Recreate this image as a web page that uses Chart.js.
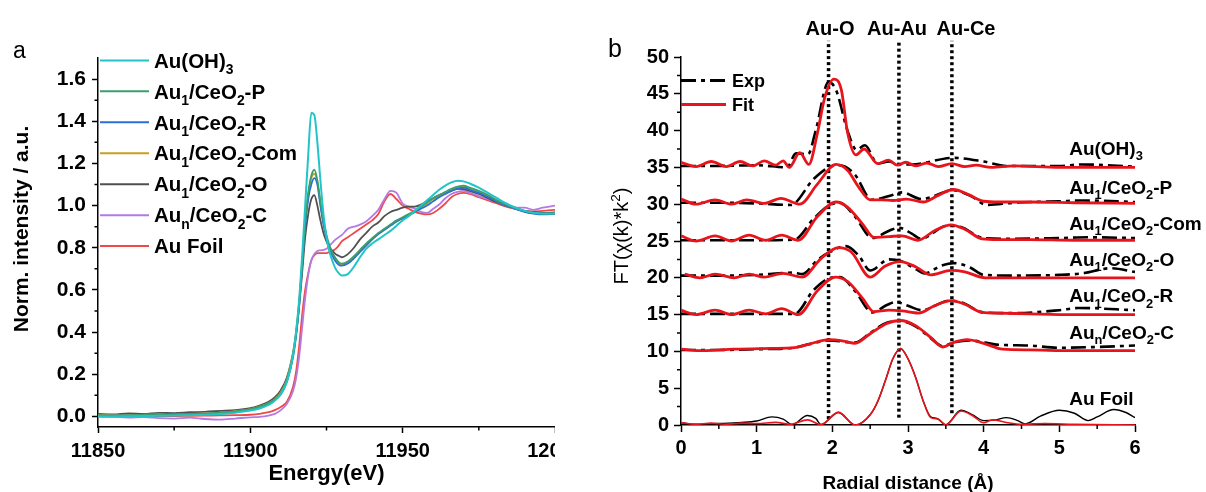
<!DOCTYPE html>
<html>
<head>
<meta charset="utf-8">
<script src="https://cdn.jsdelivr.net/npm/chart.js@4.4.1/dist/chart.umd.min.js"></script>
<style>
    html, body { margin: 0; padding: 0; background: #fff; }
    #wrap { position: relative; width: 1206px; height: 492px; overflow: hidden; }
    #boxA { position: absolute; left: 0; top: 0; width: 555px; height: 492px; }
    #boxB { position: absolute; left: 600px; top: 0; width: 606px; height: 492px; }
</style>
</head>
<body>
<div id="wrap">
    <div id="boxA"><canvas id="xanes" width="555" height="492"></canvas></div>
    <div id="boxB"><canvas id="exafs" width="606" height="492"></canvas></div>
</div>
<script>
const FONT = '"Liberation Sans", Arial, Helvetica, sans-serif';

// ---------- panel a : XANES ----------
const energy = [11850, 11855, 11860, 11865, 11870, 11875, 11880, 11885, 11890, 11895, 11900,
    11903, 11906, 11908, 11910, 11912, 11914,
    11915, 11916, 11917, 11918, 11919, 11920, 11921, 11922, 11923, 11924, 11925, 11926, 11927, 11928, 11929, 11930,
    11932, 11934, 11936, 11938, 11940, 11942, 11944, 11946, 11948, 11950, 11952, 11954, 11956, 11958, 11960, 11962, 11964, 11966, 11968, 11970, 11972,
    11975, 11978, 11981, 11984, 11987, 11990, 11993, 11996, 12000];

const auOH3 = [0.000, 0.000, 0.001, 0.002, 0.003, 0.004, 0.006, 0.008, 0.012, 0.018, 0.028,
    0.038, 0.055, 0.075, 0.105, 0.165, 0.29,
    0.40, 0.55, 0.76, 1.00, 1.24, 1.44, 1.43, 1.30, 1.12, 0.96, 0.85, 0.78, 0.735, 0.70, 0.68, 0.668,
    0.675, 0.71, 0.755, 0.795, 0.82, 0.84, 0.86, 0.88, 0.905, 0.93, 0.95, 0.975, 1.0, 1.025, 1.05, 1.075, 1.095, 1.11, 1.118, 1.115, 1.105,
    1.085, 1.06, 1.035, 1.01, 0.99, 0.975, 0.966, 0.963, 0.963];
const auP = [0.005, 0.004, 0.006, 0.007, 0.008, 0.010, 0.011, 0.013, 0.018, 0.024, 0.034,
    0.045, 0.062, 0.08, 0.11, 0.17, 0.29,
    0.39, 0.53, 0.72, 0.92, 1.06, 1.14, 1.17, 1.12, 1.02, 0.93, 0.86, 0.81, 0.775, 0.75, 0.732, 0.725,
    0.735, 0.76, 0.79, 0.82, 0.845, 0.87, 0.89, 0.91, 0.93, 0.945, 0.96, 0.975, 0.995, 1.015, 1.035, 1.05, 1.065, 1.08, 1.09, 1.095, 1.085,
    1.07, 1.05, 1.025, 1.005, 0.99, 0.975, 0.965, 0.962, 0.962];
const auR = [0.004, 0.005, 0.004, 0.007, 0.006, 0.009, 0.010, 0.012, 0.016, 0.022, 0.032,
    0.044, 0.06, 0.078, 0.105, 0.165, 0.28,
    0.38, 0.52, 0.71, 0.90, 1.03, 1.10, 1.13, 1.10, 1.00, 0.91, 0.845, 0.795, 0.76, 0.735, 0.72, 0.715,
    0.725, 0.75, 0.78, 0.81, 0.84, 0.865, 0.885, 0.905, 0.925, 0.94, 0.955, 0.97, 0.985, 1.0, 1.02, 1.04, 1.055, 1.07, 1.08, 1.085, 1.075,
    1.06, 1.04, 1.02, 1.0, 0.985, 0.97, 0.962, 0.958, 0.96];
const auCom = [0.006, 0.008, 0.005, 0.009, 0.010, 0.008, 0.012, 0.014, 0.017, 0.025, 0.035,
    0.047, 0.064, 0.082, 0.115, 0.175, 0.30,
    0.40, 0.54, 0.73, 0.92, 1.05, 1.13, 1.15, 1.11, 1.01, 0.92, 0.85, 0.80, 0.765, 0.74, 0.725, 0.72,
    0.73, 0.755, 0.785, 0.815, 0.84, 0.865, 0.885, 0.905, 0.925, 0.94, 0.955, 0.97, 0.99, 1.01, 1.03, 1.045, 1.06, 1.075, 1.085, 1.09, 1.08,
    1.065, 1.045, 1.02, 1.0, 0.985, 0.972, 0.963, 0.96, 0.962];
const auO = [0.012, 0.010, 0.015, 0.012, 0.017, 0.016, 0.020, 0.022, 0.026, 0.030, 0.040,
    0.052, 0.07, 0.09, 0.125, 0.185, 0.30,
    0.39, 0.52, 0.68, 0.85, 0.96, 1.03, 1.05, 1.00, 0.93, 0.87, 0.83, 0.80, 0.785, 0.77, 0.762, 0.755,
    0.77, 0.80, 0.84, 0.87, 0.90, 0.92, 0.95, 0.97, 0.98, 0.99, 0.995, 0.995, 1.005, 1.02, 1.035, 1.05, 1.06, 1.07, 1.08, 1.078, 1.07,
    1.055, 1.035, 1.015, 0.998, 0.985, 0.975, 0.97, 0.965, 0.968];
const aunC = [0.0, -0.002, -0.005, -0.003, -0.008, -0.010, -0.006, -0.012, -0.015, -0.010, -0.004,
    -0.002, 0.004, 0.012, 0.03, 0.06, 0.12,
    0.18, 0.28, 0.42, 0.56, 0.67, 0.74, 0.77, 0.785, 0.788, 0.79, 0.795, 0.81, 0.825, 0.84, 0.85, 0.86,
    0.89, 0.90, 0.91, 0.925, 0.95, 0.98, 1.03, 1.07, 1.06, 1.01, 0.995, 0.985, 0.97, 0.965, 0.985, 1.005, 1.035, 1.055, 1.065, 1.07, 1.06,
    1.045, 1.03, 1.015, 1.0, 0.99, 0.99, 0.98, 0.99, 1.0];
const auFoil = [0.0, 0.0, 0.001, 0.001, 0.002, 0.002, 0.003, 0.004, 0.005, 0.006, 0.008,
    0.012, 0.02, 0.03, 0.045, 0.07, 0.14,
    0.21, 0.33, 0.48, 0.60, 0.68, 0.74, 0.765, 0.775, 0.775, 0.775, 0.775, 0.78, 0.785, 0.795, 0.81, 0.83,
    0.85, 0.87, 0.89, 0.91, 0.93, 0.96, 1.02, 1.055, 1.03, 1.0, 0.985, 0.97, 0.962, 0.958, 0.965, 0.985, 1.01, 1.04, 1.055, 1.06, 1.055,
    1.04, 1.025, 1.01, 0.995, 0.985, 0.975, 0.972, 0.975, 0.98];

const xanesNames = ['Au(OH)_{3}', 'Au_{1}/CeO_{2}-P', 'Au_{1}/CeO_{2}-R', 'Au_{1}/CeO_{2}-Com',
    'Au_{1}/CeO_{2}-O', 'Au_{n}/CeO_{2}-C', 'Au Foil'];
const xanesValues = [auOH3, auP, auR, auCom, auO, aunC, auFoil];
const xanesColors = ['#22c4c8', '#3a9f6c', '#2a6fd8', '#c8a020', '#505050', '#b47ae2', '#ef4848'];

const xanesTicksX = [11850, 11900, 11950, 12000];
const xanesMinorX = [11875, 11925, 11975];
const xanesTicksY = [0, 0.2, 0.4, 0.6, 0.8, 1.0, 1.2, 1.4, 1.6];
const xanesMinorY = [0.1, 0.3, 0.5, 0.7, 0.9, 1.1, 1.3, 1.5];

// ---------- panel b : EXAFS FT ----------
const fitAuOH3 = [[0, 35.7], [0.2, 35.1], [0.4, 35.8], [0.6, 35.1], [0.78, 35.8], [0.95, 35.2], [1.1, 35.9], [1.25, 35.3],
    [1.35, 35.9], [1.43, 35.0], [1.57, 37.0], [1.69, 35.4], [1.8, 39.5], [1.9, 44.5], [2.02, 47.0], [2.12, 45.5], [2.2, 39.8],
    [2.31, 36.7], [2.42, 37.5], [2.6, 35.5], [2.74, 36.0], [2.86, 35.3], [2.97, 35.7], [3.1, 35.2], [3.25, 35.6], [3.4, 35.1],
    [3.58, 35.5], [3.75, 35.1], [3.9, 35.3], [4.1, 35.0], [4.4, 35.2], [5.0, 35.0], [6.0, 35.0]];
const expAuOH3 = [[0, 35.2], [0.5, 35.2], [1.0, 35.3], [1.4, 35.0], [1.52, 36.9], [1.68, 36.8], [1.78, 40.0], [1.95, 46.6],
    [2.05, 45.5], [2.2, 40.0], [2.32, 37.4], [2.43, 38.0], [2.6, 35.5], [2.75, 35.8], [2.9, 35.4], [3.05, 35.4], [3.6, 36.3],
    [4.0, 35.8], [4.3, 35.2], [5.0, 35.2], [5.3, 35.4], [6.0, 35.1]];

const fitP = [[0, 30.7], [0.2, 30.0], [0.45, 30.6], [0.67, 30.0], [0.87, 30.6], [1.1, 30.1], [1.32, 30.8], [1.57, 30.0],
    [1.8, 32.7], [2.05, 35.4], [2.2, 34.6], [2.35, 32.3], [2.5, 30.6], [2.65, 30.6], [2.8, 30.5], [2.98, 30.7], [3.2, 30.3],
    [3.4, 31.2], [3.6, 32.0], [3.8, 31.3], [4.0, 30.4], [4.2, 30.3], [4.6, 30.3], [5.2, 30.2], [6.0, 30.1]];
const expP = [[0, 30.2], [0.5, 30.2], [1.0, 30.1], [1.45, 29.9], [1.75, 33.4], [1.95, 35.0], [2.1, 35.3], [2.3, 34.0],
    [2.52, 30.6], [2.75, 31.1], [2.92, 31.6], [3.18, 30.7], [3.6, 31.9], [3.85, 31.0], [4.04, 29.9], [4.4, 30.2], [5.0, 30.4],
    [5.3, 30.5], [6.0, 30.3]];

const fitCom = [[0, 25.7], [0.2, 25.0], [0.45, 25.7], [0.67, 25.0], [0.9, 25.8], [1.12, 25.1], [1.33, 25.8], [1.55, 25.1],
    [1.8, 28.3], [2.05, 30.3], [2.2, 29.6], [2.4, 27.3], [2.55, 25.5], [2.75, 25.6], [2.92, 25.7], [3.13, 25.1], [3.35, 26.4],
    [3.57, 27.2], [3.75, 26.6], [3.98, 25.3], [4.2, 25.2], [4.6, 25.2], [5.2, 25.1], [6.0, 25.1]];
const expCom = [[0, 25.1], [0.5, 25.1], [1.0, 25.1], [1.5, 25.2], [1.75, 28.0], [1.95, 29.8], [2.1, 30.2], [2.3, 28.3],
    [2.53, 25.4], [2.75, 26.4], [2.88, 26.8], [3.05, 26.0], [3.17, 25.3], [3.52, 27.1], [3.7, 26.9], [4.0, 25.4], [4.4, 25.3],
    [5.0, 25.4], [5.4, 25.5], [6.0, 25.4]];

const fitO = [[0.05, 20.5], [0.25, 20.0], [0.45, 20.5], [0.7, 20.0], [0.9, 20.5], [1.1, 20.1], [1.35, 20.6], [1.6, 20.1],
    [1.85, 22.6], [2.08, 24.1], [2.25, 23.5], [2.5, 20.1], [2.7, 21.6], [2.9, 22.2], [3.1, 21.5], [3.3, 20.4], [3.57, 21.0],
    [3.75, 20.8], [4.02, 20.0], [4.4, 20.0], [5.0, 20.0], [6.0, 20.0]];
const expO = [[0, 20.3], [0.5, 20.3], [1.0, 20.4], [1.5, 20.7], [1.6, 20.5], [1.8, 22.4], [1.95, 23.4], [2.18, 24.3],
    [2.35, 23.0], [2.5, 21.0], [2.75, 22.5], [2.9, 22.3], [3.1, 21.2], [3.22, 20.6], [3.43, 21.6], [3.6, 22.0], [3.82, 21.4],
    [4.0, 20.4], [4.4, 20.3], [5.0, 20.4], [5.3, 20.6], [5.68, 21.3], [6.0, 20.8]];

const fitR = [[0, 15.6], [0.2, 15.0], [0.45, 15.6], [0.67, 15.0], [0.9, 15.6], [1.12, 15.1], [1.33, 15.8], [1.55, 15.0],
    [1.8, 18.2], [2.04, 20.1], [2.2, 19.5], [2.4, 17.2], [2.55, 15.4], [2.75, 15.6], [2.92, 15.5], [3.14, 15.2], [3.35, 16.2],
    [3.57, 16.9], [3.75, 16.4], [3.98, 15.3], [4.2, 15.2], [4.6, 15.1], [5.2, 15.0], [6.0, 15.0]];
const expR = [[0, 15.1], [0.5, 15.1], [1.0, 15.1], [1.5, 15.1], [1.75, 18.3], [1.95, 19.9], [2.1, 20.1], [2.3, 18.2],
    [2.53, 15.3], [2.72, 16.3], [2.84, 16.7], [3.0, 16.2], [3.18, 15.6], [3.55, 16.9], [3.72, 16.6], [4.0, 15.3], [4.4, 15.2],
    [5.0, 15.6], [5.25, 15.9], [6.0, 15.6]];

const fitC = [[0, 10.3], [0.3, 10.1], [0.7, 10.3], [1.2, 10.4], [1.5, 10.5], [1.7, 11.0], [1.95, 11.6], [2.15, 11.4],
    [2.3, 11.1], [2.5, 12.4], [2.72, 13.8], [2.9, 14.2], [3.1, 13.5], [3.3, 11.9], [3.46, 10.6], [3.6, 11.2], [3.78, 11.6],
    [4.0, 11.1], [4.25, 10.3], [4.6, 10.2], [5.2, 10.1], [6.0, 10.1]];
const expC = [[0, 10.2], [0.5, 10.2], [1.0, 10.3], [1.5, 10.5], [1.7, 11.0], [1.95, 11.5], [2.3, 11.2], [2.5, 12.5],
    [2.72, 13.9], [2.9, 14.1], [3.1, 13.4], [3.3, 11.8], [3.46, 10.7], [3.6, 11.2], [3.8, 11.5], [4.2, 10.9], [4.6, 10.8],
    [5.0, 10.5], [5.5, 10.6], [6.0, 10.8]];

const fitFoil = [[0, 0.35], [0.2, 0.1], [0.4, 0.25], [0.6, 0.1], [0.8, 0.25], [1.0, 0.2], [1.25, 0.35], [1.45, 0.1],
    [1.67, 0.7], [1.85, 0.05], [2.08, 1.75], [2.3, 0.0], [2.5, 1.4], [2.6, 3.2], [2.7, 6.0], [2.8, 9.0], [2.9, 10.4],
    [3.0, 9.0], [3.1, 6.5], [3.2, 3.3], [3.3, 1.0], [3.4, 0.8], [3.5, 0.0], [3.7, 1.9], [3.85, 1.3], [4.0, 0.3], [4.12, 0.7],
    [4.3, 0.35], [4.5, 0.1], [4.8, 0.2], [5.2, 0.1], [6.0, 0.0]];
const expFoil = [[0, 0.3], [0.2, 0.1], [0.5, 0.2], [0.8, 0.35], [1.0, 0.55], [1.2, 1.1], [1.35, 0.8], [1.47, 0.05],
    [1.67, 1.3], [1.78, 0.9], [1.85, 0.05], [2.08, 1.7], [2.3, 0.0], [2.5, 1.4], [2.6, 3.2], [2.7, 6.0], [2.8, 9.0],
    [2.9, 10.4], [3.0, 9.0], [3.1, 6.5], [3.2, 3.3], [3.3, 1.1], [3.38, 0.9], [3.5, 0.05], [3.7, 2.0], [3.85, 1.4],
    [4.0, 0.6], [4.15, 0.7], [4.3, 1.0], [4.45, 0.6], [4.55, 0.15], [4.75, 1.2], [5.0, 2.0], [5.2, 1.6], [5.38, 0.6],
    [5.5, 1.1], [5.72, 2.1], [5.88, 1.7], [6.0, 1.0]];

const ftNames = ['Au(OH)_{3}', 'Au_{1}/CeO_{2}-P', 'Au_{1}/CeO_{2}-Com', 'Au_{1}/CeO_{2}-O',
    'Au_{1}/CeO_{2}-R', 'Au_{n}/CeO_{2}-C', 'Au Foil'];
const ftExp = [expAuOH3, expP, expCom, expO, expR, expC, expFoil];
const ftFit = [fitAuOH3, fitP, fitCom, fitO, fitR, fitC, fitFoil];
const ftLabelY = [37.7, 32.4, 27.5, 22.6, 17.6, 12.7, 3.7]; // where each name sits
const ftLabelR = 5.13;

const bondNames = ['Au-O', 'Au-Au', 'Au-Ce'];
const bondR = [1.95, 2.88, 3.58];
const bondLow = [0.8, 1.0, 1.6];
const bondTop = 52.2;

const radialTicksX = [0, 1, 2, 3, 4, 5, 6];
const radialMinorX = [0.5, 1.5, 2.5, 3.5, 4.5, 5.5];
const ftTicksY = [0, 5, 10, 15, 20, 25, 30, 35, 40, 45, 50];
const ftMinorY = [2.5, 7.5, 12.5, 17.5, 22.5, 27.5, 32.5, 37.5, 42.5, 47.5];

const FIT_RED = '#e8141c';

Chart.defaults.font.family = FONT;
Chart.defaults.color = '#000';

// text with _{sub} and ^{sup} parts, y = baseline
function drawRich(ctx, text, x, y, size, weight, align) {
    const segs = [];
    const re = /([_^])\{([^}]*)\}|([^_^]+)/g;
    let m;
    while ((m = re.exec(text))) {
        if (m[3]) segs.push({ t: m[3], mode: 0 });
        else segs.push({ t: m[2], mode: m[1] === '_' ? 1 : -1 });
    }
    const fontOf = s => `${weight} ${s.mode ? (size * 0.68).toFixed(1) : size}px ${FONT}`;
    let w = 0;
    segs.forEach(s => { ctx.font = fontOf(s); s.w = ctx.measureText(s.t).width; w += s.w; });
    let cx = align === 'center' ? x - w / 2 : (align === 'right' ? x - w : x);
    ctx.textAlign = 'left';
    ctx.textBaseline = 'alphabetic';
    segs.forEach(s => {
        ctx.font = fontOf(s);
        const dy = s.mode === 1 ? size * 0.3 : (s.mode === -1 ? -size * 0.42 : 0);
        ctx.fillText(s.t, cx, y + dy);
        cx += s.w;
    });
}

function minorTicks(xMinor, yMinor, len) {
    return {
        id: 'minorTicks',
        afterDraw(chart) {
            const { ctx, chartArea: a, scales: { x, y } } = chart;
            ctx.save();
            ctx.strokeStyle = '#000';
            ctx.lineWidth = 1.5;
            ctx.beginPath();
            xMinor.forEach(v => { const px = x.getPixelForValue(v); ctx.moveTo(px, a.bottom); ctx.lineTo(px, a.bottom + len); });
            yMinor.forEach(v => { const py = y.getPixelForValue(v); ctx.moveTo(a.left, py); ctx.lineTo(a.left - len, py); });
            ctx.stroke();
            ctx.restore();
        }
    };
}

function axisStyle(ticks, fmt, padding, width, height, tickLen, fontSize) {
    return {
        type: 'linear',
        border: { display: true, color: '#000', width: 1.5 },
        grid: { display: true, drawOnChartArea: false, color: '#000', tickLength: tickLen, tickWidth: 1.5 },
        ticks: { autoSkip: false, maxRotation: 0, padding: padding, color: '#000',
            font: { family: FONT, size: fontSize, weight: 'bold' }, callback: fmt },
        afterBuildTicks: s => { s.ticks = ticks.map(v => ({ value: v })); },
        afterFit: s => {
            if (width) s.width = width;
            if (height) s.height = height;
            s.paddingLeft = 0; s.paddingRight = 0; s.paddingTop = 0; s.paddingBottom = 0;
        }
    };
}

// ---------- chart a ----------
const xanesDecor = {
    id: 'xanesDecor',
    afterDraw(chart) {
        const { ctx, chartArea: a } = chart;
        ctx.save();
        ctx.fillStyle = '#000';
        // legend
        chart.data.datasets.forEach((ds, i) => {
            const yy = a.top + 2.4 + i * 30.95;
            ctx.strokeStyle = ds.borderColor;
            ctx.lineWidth = 2;
            ctx.beginPath();
            ctx.moveTo(a.left + 2, yy);
            ctx.lineTo(a.left + 51, yy);
            ctx.stroke();
            drawRich(ctx, xanesNames[i], a.left + 56, yy + 7.2, 20.5, 'bold', 'left');
        });
        // axis titles
        drawRich(ctx, 'Energy(eV)', (a.left + a.right) / 2, 480, 22, 'bold', 'center');
        ctx.save();
        ctx.translate(28, 229);
        ctx.rotate(-Math.PI / 2);
        drawRich(ctx, 'Norm. intensity / a.u.', 0, 0, 21, 'bold', 'center');
        ctx.restore();
        drawRich(ctx, 'a', 13, 58, 23, 'normal', 'left');
        ctx.restore();
    }
};

new Chart(document.getElementById('xanes'), {
    type: 'line',
    data: {
        datasets: xanesValues.map((vals, i) => ({
            label: xanesNames[i],
            data: energy.map((e, k) => ({ x: e, y: vals[k] })),
            borderColor: xanesColors[i],
            borderWidth: i === 0 ? 2 : 1.8,
            pointRadius: 0,
            cubicInterpolationMode: 'monotone'
        }))
    },
    options: {
        responsive: false,
        animation: false,
        layout: { padding: { top: 58, left: 0, right: 0, bottom: 0 } },
        plugins: { legend: { display: false }, tooltip: { enabled: false } },
        scales: {
            x: Object.assign(axisStyle(xanesTicksX, v => String(v), 6, 0, 65, 6, 20), { min: 11850, max: 12000 }),
            y: Object.assign(axisStyle(xanesTicksY, v => v.toFixed(1), 6, 98, 0, 6, 21), { min: -0.05, max: 1.7 })
        }
    },
    plugins: [minorTicks(xanesMinorX, xanesMinorY, 3.5), xanesDecor]
});

// ---------- chart b ----------
const ftDatasets = [];
ftFit.forEach((pts, i) => {
    ftDatasets.push({
        data: pts.map(p => ({ x: p[0], y: p[1] })),
        borderColor: FIT_RED,
        borderWidth: i === 6 ? 1.6 : 2.8,
        pointRadius: 0,
        cubicInterpolationMode: 'monotone',
        order: 0
    });
});
ftExp.forEach((pts, i) => {
    ftDatasets.push({
        data: pts.map(p => ({ x: p[0], y: p[1] })),
        borderColor: '#000',
        borderWidth: i === 6 ? 1.4 : 2.6,
        borderDash: i === 6 ? [] : [15, 5, 4, 5],
        pointRadius: 0,
        cubicInterpolationMode: 'monotone',
        order: 1
    });
});
bondR.forEach((r, i) => {
    ftDatasets.push({
        data: [{ x: r, y: bondLow[i] }, { x: r, y: bondTop }],
        borderColor: '#000',
        borderWidth: 3.5,
        borderDash: [3, 3],
        pointRadius: 0,
        clip: false,
        order: 2
    });
});

const exafsDecor = {
    id: 'exafsDecor',
    afterDraw(chart) {
        const { ctx, chartArea: a, scales: { x, y } } = chart;
        ctx.save();
        ctx.fillStyle = '#000';
        // bond labels above the dotted lines
        const bondX = [830, 897, 966];
        bondNames.forEach((n, i) => drawRich(ctx, n, bondX[i] - 600, 35, 20, 'bold', 'center'));
        // sample names
        ftNames.forEach((n, i) => {
            drawRich(ctx, n, x.getPixelForValue(ftLabelR), y.getPixelForValue(ftLabelY[i]) + 7, 19, 'bold', 'left');
        });
        // legend Exp / Fit
        const ly1 = a.top + 23.5, ly2 = a.top + 47.5;
        ctx.lineWidth = 2.8;
        ctx.strokeStyle = '#000';
        ctx.setLineDash([15, 5, 4, 5]);
        ctx.beginPath(); ctx.moveTo(a.left, ly1); ctx.lineTo(a.left + 45, ly1); ctx.stroke();
        ctx.setLineDash([]);
        ctx.strokeStyle = FIT_RED;
        ctx.beginPath(); ctx.moveTo(a.left, ly2); ctx.lineTo(a.left + 45, ly2); ctx.stroke();
        drawRich(ctx, 'Exp', a.left + 51, ly1 + 6.5, 18, 'bold', 'left');
        drawRich(ctx, 'Fit', a.left + 51, ly2 + 6.5, 18, 'bold', 'left');
        // axis titles
        drawRich(ctx, 'Radial distance (Å)', (a.left + a.right) / 2, 489, 19, 'bold', 'center');
        ctx.save();
        ctx.translate(28, 236);
        ctx.rotate(-Math.PI / 2);
        drawRich(ctx, 'FT(χ(k)*k^{2})', 0, 0, 20, 'normal', 'center');
        ctx.restore();
        drawRich(ctx, 'b', 8, 57, 25, 'normal', 'left');
        ctx.restore();
    }
};

new Chart(document.getElementById('exafs'), {
    type: 'line',
    data: { datasets: ftDatasets },
    options: {
        responsive: false,
        animation: false,
        layout: { padding: { top: 57, left: 0, right: 71, bottom: 0 } },
        plugins: { legend: { display: false }, tooltip: { enabled: false } },
        scales: {
            x: Object.assign(axisStyle(radialTicksX, v => String(v), 4, 0, 67, 7, 20), { min: 0, max: 6 }),
            y: Object.assign(axisStyle(ftTicksY, v => String(v), 5, 81, 0, 7, 20), { min: 0, max: 50 })
        }
    },
    plugins: [minorTicks(radialMinorX, ftMinorY, 4), exafsDecor]
});
</script>
</body>
</html>
